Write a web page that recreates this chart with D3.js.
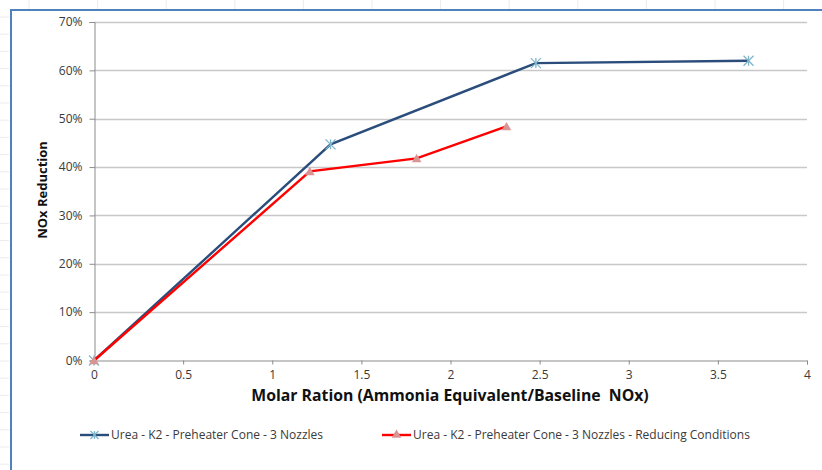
<!DOCTYPE html>
<html><head><meta charset="utf-8">
<script src="https://cdn.jsdelivr.net/npm/d3@7/dist/d3.min.js"></script>
<style>body{margin:0;background:#fff;} svg{display:block;}</style>
</head><body>
<svg id="c" width="822" height="470"></svg>
<script>
const xTicks = [0, 0.5, 1, 1.5, 2, 2.5, 3, 3.5, 4];
const yTicks = [0, 0.1, 0.2, 0.3, 0.4, 0.5, 0.6, 0.7];
const seriesNames = ["Urea - K2 - Preheater Cone - 3 Nozzles", "Urea - K2 - Preheater Cone - 3 Nozzles - Reducing Conditions"];
const blueX = [0, 1.327, 2.479, 3.672];
const blueY = [0, 0.447, 0.615, 0.620];
const redX = [0, 1.211, 1.81, 2.314];
const redY = [0, 0.391, 0.418, 0.484];
const xTitle = "Molar Ration (Ammonia Equivalent/Baseline  NOx)";
const yTitle = "NOx Reduction";

const svg = d3.select("#c");
const font = "'Open Sans', 'Liberation Sans', Arial, sans-serif";

// spreadsheet background faint marks
const bg = svg.append("g").attr("stroke", "#ececec").attr("stroke-width", 1);
d3.range(0, 12).forEach(i => {
  const x = 29 + i * 68.6;
  bg.append("line").attr("x1", x).attr("x2", x).attr("y1", 0).attr("y2", 9);
});
d3.range(0, 27).forEach(i => {
  const y = 17 + i * 17.2;
  bg.append("line").attr("x1", 0).attr("x2", 9).attr("y1", y).attr("y2", y);
});

// chart border
svg.append("line").attr("x1", 11).attr("x2", 11).attr("y1", 10).attr("y2", 470)
  .attr("stroke", "#4F81BD").attr("stroke-width", 2);
svg.append("line").attr("x1", 10).attr("x2", 822).attr("y1", 10).attr("y2", 10)
  .attr("stroke", "#4F81BD").attr("stroke-width", 2);

const x = d3.scaleLinear().domain([0, 4]).range([94, 807]);
const y = d3.scaleLinear().domain([0, 0.7]).range([360.5, 22]);

// gridlines
svg.append("g").selectAll("line").data(yTicks.filter(d => d > 0)).join("line")
  .attr("x1", 94).attr("x2", 807).attr("y1", d => Math.round(y(d)) + 0.5).attr("y2", d => Math.round(y(d)) + 0.5)
  .attr("stroke", "#c8c8c8").attr("stroke-width", 1.3);

// axes
const yAxis = svg.append("g").attr("transform", "translate(94.5,0)")
  .call(d3.axisLeft(y).tickValues(yTicks).tickFormat(d3.format(".0%")).tickSize(5).tickPadding(7));
const xAxis = svg.append("g").attr("transform", "translate(0,360.5)")
  .call(d3.axisBottom(x).tickValues(xTicks).tickFormat(d => String(d)).tickSize(4).tickPadding(6));
[yAxis, xAxis].forEach(a => {
  a.select(".domain").attr("stroke", "#8c8c8c").attr("stroke-width", 1);
  a.selectAll(".tick line").attr("stroke", "#8c8c8c");
  a.selectAll("text").attr("font-family", font).attr("font-size", 12).attr("fill", "#3a3a3a");
});

// titles
svg.append("text").attr("x", 450).attr("y", 401).attr("text-anchor", "middle")
  .attr("font-family", font).attr("font-weight", "bold").attr("font-size", 15.8).attr("fill", "#111")
  .attr("xml:space", "preserve").style("white-space", "pre").text(xTitle);
svg.append("text").attr("transform", "translate(47,190) rotate(-90)").attr("text-anchor", "middle")
  .attr("font-family", font).attr("font-weight", "bold").attr("font-size", 13).attr("fill", "#111")
  .text(yTitle);

const line = d3.line().x(d => x(d[0])).y(d => y(d[1]));
const blue = blueX.map((v, i) => [v, blueY[i]]);
const red = redX.map((v, i) => [v, redY[i]]);

const blueCol = "#2a4d7c", blueMk = "#7fb6cc", redCol = "#ff0000", redMk = "#d99593";

function star(g, cx, cy, s) {
  const p = g.append("g").attr("transform", `translate(${cx},${cy})`).attr("stroke", blueMk).attr("stroke-width", 1.3);
  p.append("line").attr("x1", -s).attr("x2", s).attr("y1", -s).attr("y2", s);
  p.append("line").attr("x1", -s).attr("x2", s).attr("y1", s).attr("y2", -s);
  p.append("line").attr("x1", 0).attr("x2", 0).attr("y1", -s).attr("y2", s);
}
const tri = d3.symbol().type(d3.symbolTriangle).size(40);

svg.append("path").datum(blue).attr("d", line).attr("fill", "none").attr("stroke", blueCol).attr("stroke-width", 2.4);
const mb = svg.append("g");
blue.forEach(d => star(mb, x(d[0]), y(d[1]), 5));

svg.append("path").datum(red).attr("d", line).attr("fill", "none").attr("stroke", redCol).attr("stroke-width", 2.4);
svg.append("g").selectAll("path").data(red).join("path")
  .attr("d", tri).attr("transform", d => `translate(${x(d[0])},${y(d[1]) + 1})`).attr("fill", redMk);

// legend
const lg = svg.append("g");
lg.append("line").attr("x1", 80).attr("x2", 109).attr("y1", 435).attr("y2", 435).attr("stroke", blueCol).attr("stroke-width", 2.4);
star(lg, 94.5, 435, 4);
lg.append("text").attr("x", 111).attr("y", 439).attr("font-family", font).attr("font-size", 12).attr("fill", "#3a3a3a").text(seriesNames[0]);
lg.append("line").attr("x1", 382).attr("x2", 411).attr("y1", 435).attr("y2", 435).attr("stroke", redCol).attr("stroke-width", 2.4);
lg.append("path").attr("d", tri).attr("transform", "translate(396.5,435)").attr("fill", redMk);
lg.append("text").attr("x", 413).attr("y", 439).attr("font-family", font).attr("font-size", 12).attr("fill", "#3a3a3a").text(seriesNames[1]);
</script>
</body></html>
